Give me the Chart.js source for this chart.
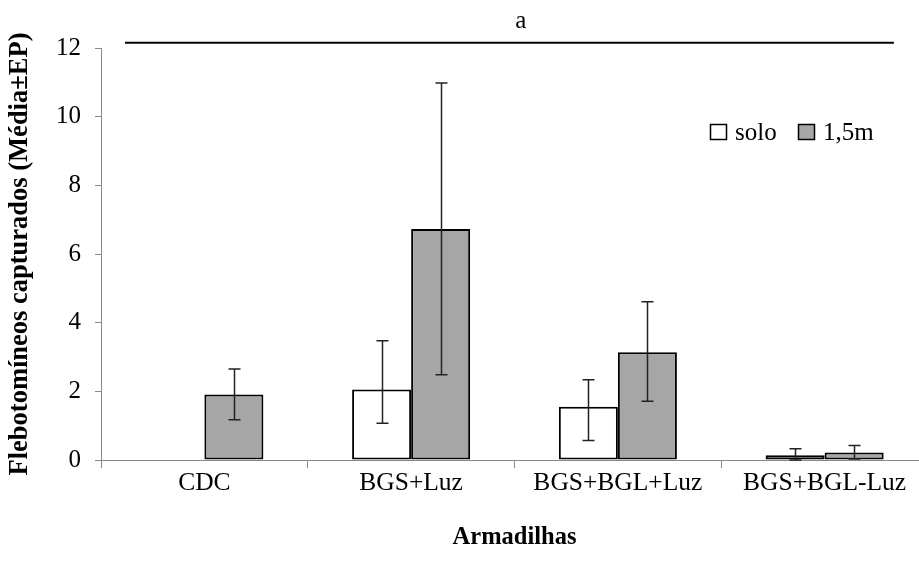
<!DOCTYPE html>
<html>
<head>
<meta charset="utf-8">
<script src="https://cdn.jsdelivr.net/npm/chart.js@4/dist/chart.umd.min.js"></script>
<style>
  html, body { margin: 0; padding: 0; background: #fff; overflow: hidden; width: 919px; height: 569px; }
  canvas { display: block; }
</style>
</head>
<body>
<canvas id="c" width="928" height="569" style="width:928px;height:569px"></canvas>
<script>
// ---- data ----
const categories = ['CDC', 'BGS+Luz', 'BGS+BGL+Luz', 'BGS+BGL-Luz'];
const seriesNames = ['solo', '1,5m'];
const soloMean = [0, 2.05, 1.55, 0.14];
const soloErrUp = [0, 1.42, 0.79, 0.19];
const soloErrDown = [0, 0.98, 0.98, 0.14];
const m15Mean = [1.91, 6.73, 3.14, 0.22];
const m15ErrUp = [0.74, 4.25, 1.47, 0.20];
const m15ErrDown = [0.74, 4.25, 1.43, 0.19];
const yTicks = [0, 2, 4, 6, 8, 10, 12];
const sigLabel = 'a';
const sigLevel = 12.15;
const sigFrom = -0.384;   // category index units
const sigTo = 3.335;
const sigLabelAt = 1.53;

const SERIF = "'Liberation Serif', 'Times New Roman', serif";

const errorBars = {
  id: 'errorBars',
  afterDatasetsDraw(chart) {
    const ctx = chart.ctx;
    const ys = chart.scales.y;
    const errs = [[soloErrUp, soloErrDown], [m15ErrUp, m15ErrDown]];
    ctx.save();
    ctx.strokeStyle = '#222';
    ctx.lineWidth = 1.5;
    chart.data.datasets.forEach((ds, di) => {
      const meta = chart.getDatasetMeta(di);
      meta.data.forEach((bar, i) => {
        const v = ds.data[i];
        const up = errs[di][0][i], dn = errs[di][1][i];
        if (!v && !up) return;
        const x = Math.round(bar.x) + 0.5;
        const yT = ys.getPixelForValue(v + up);
        const yB = ys.getPixelForValue(Math.max(0, v - dn));
        ctx.beginPath();
        ctx.moveTo(x, yT); ctx.lineTo(x, yB);
        ctx.moveTo(x - 6, yT); ctx.lineTo(x + 6, yT);
        ctx.moveTo(x - 6, yB); ctx.lineTo(x + 6, yB);
        ctx.stroke();
      });
    });
    ctx.restore();
  }
};

const extras = {
  id: 'extras',
  afterDraw(chart) {
    const ctx = chart.ctx;
    const xs = chart.scales.x, ys = chart.scales.y;
    ctx.save();
    // significance line
    const yL = ys.getPixelForValue(sigLevel);
    ctx.strokeStyle = '#000';
    ctx.lineWidth = 2;
    ctx.beginPath();
    ctx.moveTo(xs.getPixelForValue(sigFrom), yL);
    ctx.lineTo(xs.getPixelForValue(sigTo), yL);
    ctx.stroke();
    ctx.fillStyle = '#000';
    ctx.font = '25px ' + SERIF;
    ctx.textAlign = 'center';
    ctx.textBaseline = 'alphabetic';
    ctx.fillText(sigLabel, xs.getPixelForValue(sigLabelAt), yL - 15);
    // legend
    const items = chart.data.datasets.map(d => ({ text: d.label, fill: d.backgroundColor }));
    let lx = 710;
    const ly = 132;
    ctx.textAlign = 'left';
    ctx.textBaseline = 'middle';
    items.forEach(it => {
      ctx.fillStyle = it.fill;
      ctx.fillRect(lx + 0.5, ly - 7.5, 16, 15);
      ctx.strokeStyle = '#000';
      ctx.lineWidth = 1.5;
      ctx.strokeRect(lx + 0.5, ly - 7.5, 16, 15);
      ctx.fillStyle = '#000';
      ctx.fillText(it.text, lx + 25, ly + 1);
      lx += 88;
    });
    ctx.restore();
  }
};

new Chart(document.getElementById('c'), {
  type: 'bar',
  data: {
    labels: categories,
    datasets: [
      { label: seriesNames[0], data: soloMean, backgroundColor: '#ffffff', borderColor: '#000', borderWidth: 2, borderSkipped: false },
      { label: seriesNames[1], data: m15Mean, backgroundColor: '#a6a6a6', borderColor: '#000', borderWidth: 2, borderSkipped: false }
    ]
  },
  options: {
    responsive: false,
    devicePixelRatio: 1,
    animation: false,
    layout: { padding: { top: 48, left: 0, right: 0, bottom: 0 } },
    datasets: { bar: { categoryPercentage: 0.571, barPercentage: 1.0 } },
    plugins: { legend: { display: false }, tooltip: { enabled: false } },
    scales: {
      x: {
        grid: { drawOnChartArea: false, color: '#888', tickLength: 8, offset: true },
        border: { color: '#888', width: 1 },
        ticks: { color: '#000', font: { family: SERIF, size: 25.5 }, padding: 0 },
        title: { display: true, text: 'Armadilhas', color: '#000',
                 font: { family: SERIF, size: 24.5, weight: 'bold' }, padding: { top: 0, bottom: 17 } },
        afterFit: s => { s.height = 109; }
      },
      y: {
        min: 0, max: 12,
        afterBuildTicks: s => { s.ticks = yTicks.map(v => ({ value: v })); },
        grid: { drawOnChartArea: false, color: '#888', tickLength: 6 },
        border: { color: '#888', width: 1 },
        ticks: { color: '#000', font: { family: SERIF, size: 25 }, padding: 14 },
        title: { display: true, text: 'Flebotomíneos capturados (Média±EP)', color: '#000',
                 font: { family: SERIF, size: 26.5, weight: 'bold' }, padding: { top: 4, bottom: 0 } },
        afterFit: s => { s.width = 101; }
      }
    }
  },
  plugins: [errorBars, extras]
});
</script>
</body>
</html>
